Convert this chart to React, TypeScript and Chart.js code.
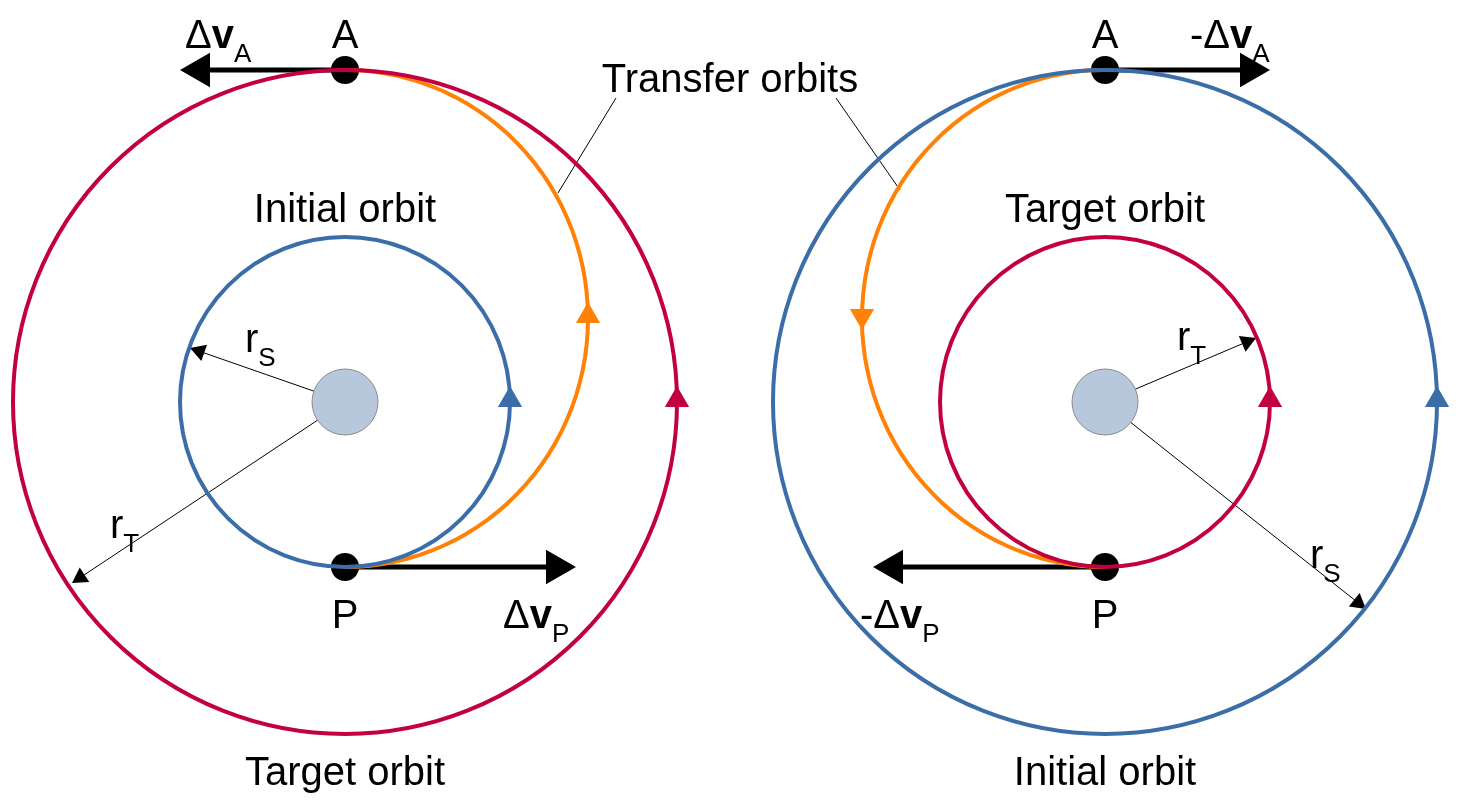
import { useEffect, useRef } from 'react';
import Chart from 'chart.js/auto';

// geometry (pixel space, y down)
const centers = [[345, 402], [1105, 402]];
const innerR = 165;
const outerR = 332;
const transferA = 248.5;
const transferB = 243;
const RED = '#c3003f';
const BLUE = '#3b6ea8';
const ORANGE = '#ff8207';

// thick delta-v arrows: [fromX, fromY, toX, toY]
const dvArrows = [[345, 70, 180, 70], [345, 567, 576, 567], [1105, 70, 1270, 70], [1105, 567, 873, 567]];
// thin radius arrows
const radArrows = [[345, 402, 190, 348], [345, 402, 72, 583], [1105, 402, 1256, 338], [1105, 402, 1366, 609]];
// direction markers on orbits: [x, y, rotation, colour]
const markers: [number, number, number, string][] = [
  [510, 400, 0, BLUE], [588, 316, 0, ORANGE], [677, 400, 0, RED],
  [862, 316, 180, ORANGE], [1270, 400, 0, RED], [1437, 400, 0, BLUE],
];
const leaders = [[616, 98, 558, 193], [836, 98, 900, 190]];
const orbitLabels: [string, number, number][] = [
  ['Initial orbit', 345, 222], ['Target orbit', 345, 785],
  ['Target orbit', 1105, 222], ['Initial orbit', 1105, 785],
  ['Transfer orbits', 730, 92], ['A', 345, 48], ['P', 345, 628], ['A', 1105, 48], ['P', 1105, 628],
];
// [prefix, bold, subscript, x, y]
const richLabels: [string, string, string, number, number][] = [
  ['Δ', 'v', 'A', 185, 48], ['Δ', 'v', 'P', 503, 628],
  ['-Δ', 'v', 'A', 1190, 48], ['-Δ', 'v', 'P', 860, 628],
  ['r', '', 'S', 245, 352], ['r', '', 'T', 110, 538],
  ['r', '', 'T', 1177, 350], ['r', '', 'S', 1310, 568],
];

const FONT = '"Liberation Sans", Arial, sans-serif';

const halfEllipse = (cx: number, side: number) => {
  const pts = [];
  const cy = 567 - transferA;
  for (let t = -90; t <= 90; t += 3) {
    const a = (t * Math.PI) / 180;
    pts.push({ x: cx + side * transferB * Math.cos(a), y: cy + transferA * Math.sin(a) });
  }
  return pts;
};

const arrowSets = (list: number[][], width: number, head: number) =>
  list.flatMap(([x0, y0, x1, y1]) => {
    const len = Math.hypot(x1 - x0, y1 - y0);
    const dx = (x1 - x0) / len, dy = (y1 - y0) / len;
    const rot = (Math.atan2(dx, -dy) * 180) / Math.PI;
    return [
      { type: 'scatter', data: [{ x: x0, y: y0 }, { x: x1 - dx * head, y: y1 - dy * head }], showLine: true, borderColor: '#000', borderWidth: width, pointRadius: 0 },
      { type: 'scatter', data: [{ x: x1 - dx * head, y: y1 - dy * head }], pointStyle: 'triangle', pointRadius: head, pointRotation: rot, backgroundColor: '#000', borderWidth: 0 },
    ];
  });

const textPlugin = {
  id: 'texts',
  afterDraw(chart: any) {
    const ctx = chart.ctx;
    ctx.save();
    ctx.fillStyle = '#000';
    ctx.textBaseline = 'alphabetic';
    ctx.font = `40px ${FONT}`;
    ctx.textAlign = 'center';
    orbitLabels.forEach(([t, x, y]) => ctx.fillText(t, x, y));
    ctx.textAlign = 'left';
    richLabels.forEach(([p, b, s, x, y]) => {
      ctx.font = `40px ${FONT}`;
      ctx.fillText(p, x, y);
      let cx = x + ctx.measureText(p).width;
      ctx.font = `bold 40px ${FONT}`;
      ctx.fillText(b, cx, y);
      cx += ctx.measureText(b).width;
      ctx.font = `26px ${FONT}`;
      ctx.fillText(s, cx, y + 14);
    });
    ctx.restore();
  },
};

export default function App() {
  const ref = useRef<HTMLCanvasElement>(null);
  useEffect(() => {
    if (!ref.current) return;
    const datasets: any[] = [
      { type: 'bubble', data: [{ x: centers[0][0], y: centers[0][1], r: 33 }, { x: centers[1][0], y: centers[1][1], r: 33 }], backgroundColor: '#b7c8dd', borderColor: '#8a8a8a', borderWidth: 1 },
      { type: 'bubble', data: [{ x: centers[0][0], y: centers[0][1], r: innerR }, { x: centers[1][0], y: centers[1][1], r: outerR }], backgroundColor: 'transparent', borderColor: BLUE, borderWidth: 4 },
      { type: 'bubble', data: [{ x: centers[0][0], y: centers[0][1], r: outerR }, { x: centers[1][0], y: centers[1][1], r: innerR }], backgroundColor: 'transparent', borderColor: RED, borderWidth: 4 },
      { type: 'scatter', data: halfEllipse(345, 1), showLine: true, borderColor: ORANGE, borderWidth: 4, pointRadius: 0 },
      { type: 'scatter', data: halfEllipse(1105, -1), showLine: true, borderColor: ORANGE, borderWidth: 4, pointRadius: 0 },
      ...leaders.map(([x0, y0, x1, y1]) => ({ type: 'scatter', data: [{ x: x0, y: y0 }, { x: x1, y: y1 }], showLine: true, borderColor: '#000', borderWidth: 1, pointRadius: 0 })),
      ...arrowSets(radArrows, 1, 10),
      ...arrowSets(dvArrows, 5, 20),
      ...markers.map(([x, y, r, c]) => ({ type: 'scatter', data: [{ x, y }], pointStyle: 'triangle', pointRadius: 14, pointRotation: r, backgroundColor: c, borderWidth: 0 })),
      { type: 'scatter', data: [{ x: 345, y: 70 }, { x: 345, y: 567 }, { x: 1105, y: 70 }, { x: 1105, y: 567 }], pointRadius: 14, backgroundColor: '#000', borderWidth: 0 },
    ];
    const chart = new Chart(ref.current, {
      type: 'scatter',
      data: { datasets },
      options: {
        animation: false,
        responsive: false,
        events: [],
        layout: { padding: 0, autoPadding: false },
        plugins: { legend: { display: false }, tooltip: { enabled: false } },
        scales: {
          x: { type: 'linear', min: 0, max: 1464, display: false },
          y: { type: 'linear', min: 0, max: 806, reverse: true, display: false },
        },
        elements: { point: { hoverRadius: 0 } },
        clip: false,
      } as any,
      plugins: [textPlugin],
    });
    return () => chart.destroy();
  }, []);
  return (
    <div style={{ position: 'absolute', left: 0, top: 0, width: 1464, height: 806, background: '#fff' }}>
      <canvas ref={ref} width={1464} height={806} />
    </div>
  );
}
